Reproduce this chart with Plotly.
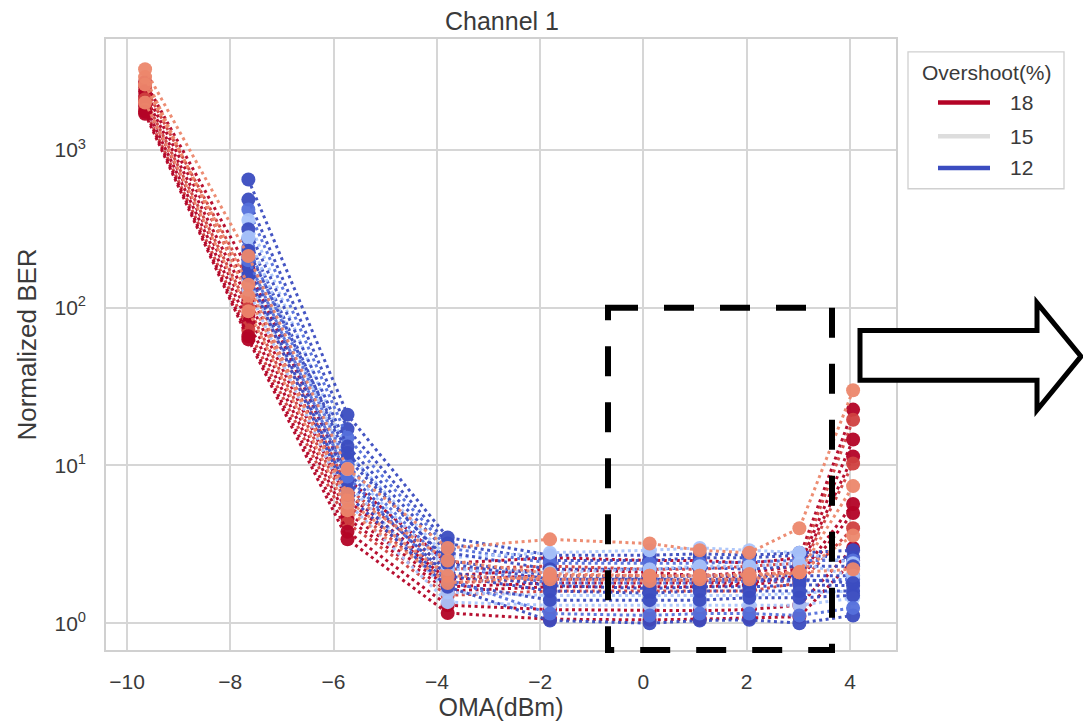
import plotly.graph_objects as go

# OMA sweep points (dBm)
oma_dbm = [-9.65, -7.65, -5.73, -3.79, -1.81, 0.12, 1.09, 2.05, 3.02, 4.06]

# Normalized BER curves, one per setting (None = not measured)
curve_01 = [3250, 213, 9.5, 3.0, 3.4, 3.2, 2.9, 2.8, 4.0, 30]
curve_02 = [2700, 175, 8.2, 2.4, 2.6, 2.5, 2.5, 2.4, 2.6, 22.6]
curve_03 = [2500, 150, 7.2, 2.2, 2.3, 2.2, 2.2, 2.3, 2.4, 19.5]
curve_04 = [2350, 130, 6.6, 2.0, 2.2, 2.1, 2.0, 2.1, 2.3, 14.6]
curve_05 = [2200, 112, 6.0, 1.9, 2.0, 2.0, 2.0, 1.95, 2.2, 11.4]
curve_06 = [2100, 100, 5.6, 1.8, 1.9, 1.9, 1.85, 1.9, 2.1, 10.3]
curve_07 = [2900, 119, 6.6, 2.5, 2.06, 2.0, 2.0, 2.0, 2.1, 7.4]
curve_08 = [2000, 90, 5.0, 1.7, 1.8, 1.8, 1.8, 1.8, 2.0, 5.7]
curve_09 = [1900, 80, 4.6, 1.6, 1.7, 1.7, 1.7, 1.75, 1.9, 5.0]
curve_10 = [1800, 72, 4.3, 1.5, 1.6, 1.6, 1.6, 1.6, 1.8, 4.0]
curve_11 = [2600, 140, 6.0, 2.0, 1.9, 1.85, 1.9, 1.9, 2.1, 3.6]
curve_12 = [1750, 66, 3.8, 1.3, 1.22, 1.2, 1.2, 1.22, 1.3, 3.0]
curve_13 = [1700, 63, 3.4, 1.16, 1.06, 1.05, 1.06, 1.08, 1.1, 2.5]
curve_14 = [2000, 95, 5.2, 1.8, 2.0, 2.0, 2.0, 2.05, 2.1, 2.2]
curve_15 = [None, 650, 21, 3.5, 2.7, 2.7, 2.75, 2.7, 2.8, 2.9]
curve_16 = [None, 485, 17, 3.2, 2.5, 2.5, 2.6, 2.6, 2.7, 2.6]
curve_17 = [None, 420, 15, 3.0, 2.4, 2.4, 2.4, 2.45, 2.5, 2.5]
curve_18 = [None, 360, 12, 2.6, 2.8, 2.9, 3.0, 2.9, 2.8, 2.4]
curve_19 = [None, 315, 13.2, 2.8, 2.2, 2.2, 2.25, 2.2, 2.3, 2.3]
curve_20 = [None, 272, 11, 2.5, 2.0, 1.95, 2.0, 2.0, 2.0, 2.0]
curve_21 = [None, 240, 10, 2.3, 1.8, 1.8, 1.8, 1.85, 1.85, 1.9]
curve_22 = [None, 210, 9, 2.1, 1.73, 1.66, 1.7, 1.7, 1.75, 1.73]
curve_23 = [None, 152, 7.7, 1.57, 1.5, 1.5, 1.5, 1.5, 1.55, 1.6]
curve_24 = [None, 190, 8, 2.0, 1.6, 1.55, 1.6, 1.6, 1.6, 1.6]
curve_25 = [None, 130, 5.8, 1.36, 1.3, 1.3, 1.3, 1.3, 1.3, 1.44]
curve_26 = [None, 170, 7, 1.8, 1.4, 1.4, 1.4, 1.45, 1.45, 1.5]
curve_27 = [None, 160, 6.5, 1.7, 1.04, 1.0, 1.04, 1.05, 1.0, 1.12]
curve_28 = [None, 200, 8.5, 1.9, 1.15, 1.12, 1.15, 1.15, 1.12, 1.25]
curve_29 = [None, 280, 9.5, 2.2, 2.1, 2.2, 2.3, 2.3, 2.4, 2.0]
curve_30 = [None, 230, 12, 2.4, 1.9, 1.9, 1.9, 1.9, 1.9, 1.8]

# Overshoot (%) of each curve, same order as above
overshoot_pct = [16.75, 18, 17.5, 18, 18, 17.5, 16.75, 18, 18, 17.5, 16.75, 18, 18, 16.75,
                 12, 12, 12.5, 14, 12, 12, 12.5, 12, 14, 12, 14, 12, 12, 12.5, 14, 12]

# Legend levels
legend_title = "Overshoot(%)"
legend_levels = [18, 15, 12]

x_ticks = [-10, -8, -6, -4, -2, 0, 2, 4]
y_ticks = [1, 10, 100, 1000]
y_tick_text = ["10<sup>0</sup>", "10<sup>1</sup>", "10<sup>2</sup>", "10<sup>3</sup>"]

curves = [curve_01, curve_02, curve_03, curve_04, curve_05, curve_06, curve_07, curve_08,
          curve_09, curve_10, curve_11, curve_12, curve_13, curve_14, curve_15, curve_16,
          curve_17, curve_18, curve_19, curve_20, curve_21, curve_22, curve_23, curve_24,
          curve_25, curve_26, curve_27, curve_28, curve_29, curve_30]

# coolwarm colormap anchors
CW = [(59, 76, 192), (98, 130, 234), (141, 176, 254), (184, 208, 249), (221, 221, 221),
      (245, 196, 173), (244, 154, 123), (222, 96, 77), (180, 4, 38)]
HUE_MIN, HUE_MAX = 12.0, 18.0


def coolwarm(v):
    t = min(max((v - HUE_MIN) / (HUE_MAX - HUE_MIN), 0.0), 1.0) * (len(CW) - 1)
    i = min(int(t), len(CW) - 2)
    f = t - i
    c = [round(CW[i][k] + (CW[i + 1][k] - CW[i][k]) * f) for k in range(3)]
    return "rgb(%d,%d,%d)" % tuple(c)


W, H = 1083, 727
L, R, T, B = 106, 896, 39, 655
FONT = "Liberation Sans, Arial, sans-serif"
TXT = "#3a3a3a"
FRAME = "#d0d0d0"


def px(xp):
    return (xp - L) / (R - L)


def py(yp):
    return (B - yp) / (B - T)


# draw reds first, blues after, salmon tones on top
order = sorted(range(len(curves)), key=lambda i: (0 if overshoot_pct[i] >= 17.5 else
                                                  (1 if overshoot_pct[i] < 15 else 2)))

fig = go.Figure()
for i in order:
    col = coolwarm(overshoot_pct[i])
    fig.add_trace(go.Scatter(
        x=oma_dbm, y=curves[i], mode="lines+markers",
        line=dict(color=col, width=3, dash="3px,3.5px"),
        marker=dict(color=col, size=14),
        opacity=0.95, showlegend=False, hoverinfo="skip",
    ))

shapes = [
    # dashed highlight box
    dict(type="rect", xref="paper", yref="paper",
         x0=px(608), x1=px(832), y0=py(310), y1=py(655),
         line=dict(color="black", width=6, dash="30px,26px"),
         fillcolor="rgba(0,0,0,0)", layer="above"),
    # block arrow
    dict(type="path", xref="paper", yref="paper", layer="above",
         path="M %f %f L %f %f L %f %f L %f %f L %f %f L %f %f L %f %f Z" % (
             px(860), py(333), px(1037), py(333), px(1037), py(305), px(1081), py(359),
             px(1037), py(413), px(1037), py(383), px(860), py(383)),
         line=dict(color="black", width=5), fillcolor="white"),
    # legend frame
    dict(type="rect", xref="paper", yref="paper", layer="above",
         x0=px(908), x1=px(1064), y0=py(190), y1=py(52),
         line=dict(color=FRAME, width=1.3), fillcolor="white"),
]

annotations = [
    dict(text=legend_title, xref="paper", yref="paper", x=px(987), y=py(73),
         xanchor="center", yanchor="middle", showarrow=False,
         font=dict(size=21, color=TXT)),
]
for k, lv in enumerate(legend_levels):
    yy = [103, 137, 169][k]
    shapes.append(dict(type="line", xref="paper", yref="paper", layer="above",
                       x0=px(938), x1=px(990), y0=py(yy), y1=py(yy),
                       line=dict(color=coolwarm(lv), width=4.5)))
    annotations.append(dict(text=str(lv), xref="paper", yref="paper", x=px(1008), y=py(yy),
                            xanchor="left", yanchor="middle", showarrow=False,
                            font=dict(size=21, color=TXT)))

fig.update_layout(
    width=W, height=H,
    margin=dict(l=L, r=W - R, t=T, b=H - B),
    paper_bgcolor="white", plot_bgcolor="white",
    font=dict(family=FONT, color=TXT, size=21),
    showlegend=False,
    title=dict(text="Channel 1", x=px(502), xref="paper", xanchor="center",
               y=1 - 21 / H, yref="container", yanchor="middle",
               font=dict(size=25, color=TXT)),
    xaxis=dict(range=[-10.407, 4.891], tickvals=x_ticks, showgrid=True,
               gridcolor="#d6d6d6", gridwidth=1.6, zeroline=False,
               showline=True, linecolor=FRAME, linewidth=1.6, mirror=True,
               ticks="", ticklabelstandoff=12, tickfont=dict(size=21),
               title=dict(text="OMA(dBm)", font=dict(size=25), standoff=4)),
    yaxis=dict(type="log", range=[-0.170, 3.704], tickvals=y_ticks, ticktext=y_tick_text,
               showgrid=True, gridcolor="#d6d6d6", gridwidth=1.6, zeroline=False,
               showline=True, linecolor=FRAME, linewidth=1.6, mirror=True,
               ticks="", ticklabelstandoff=14, tickfont=dict(size=21),
               title=dict(text="Normalized BER", font=dict(size=26), standoff=10)),
    shapes=shapes,
    annotations=annotations,
)

fig.write_html("out.html")
